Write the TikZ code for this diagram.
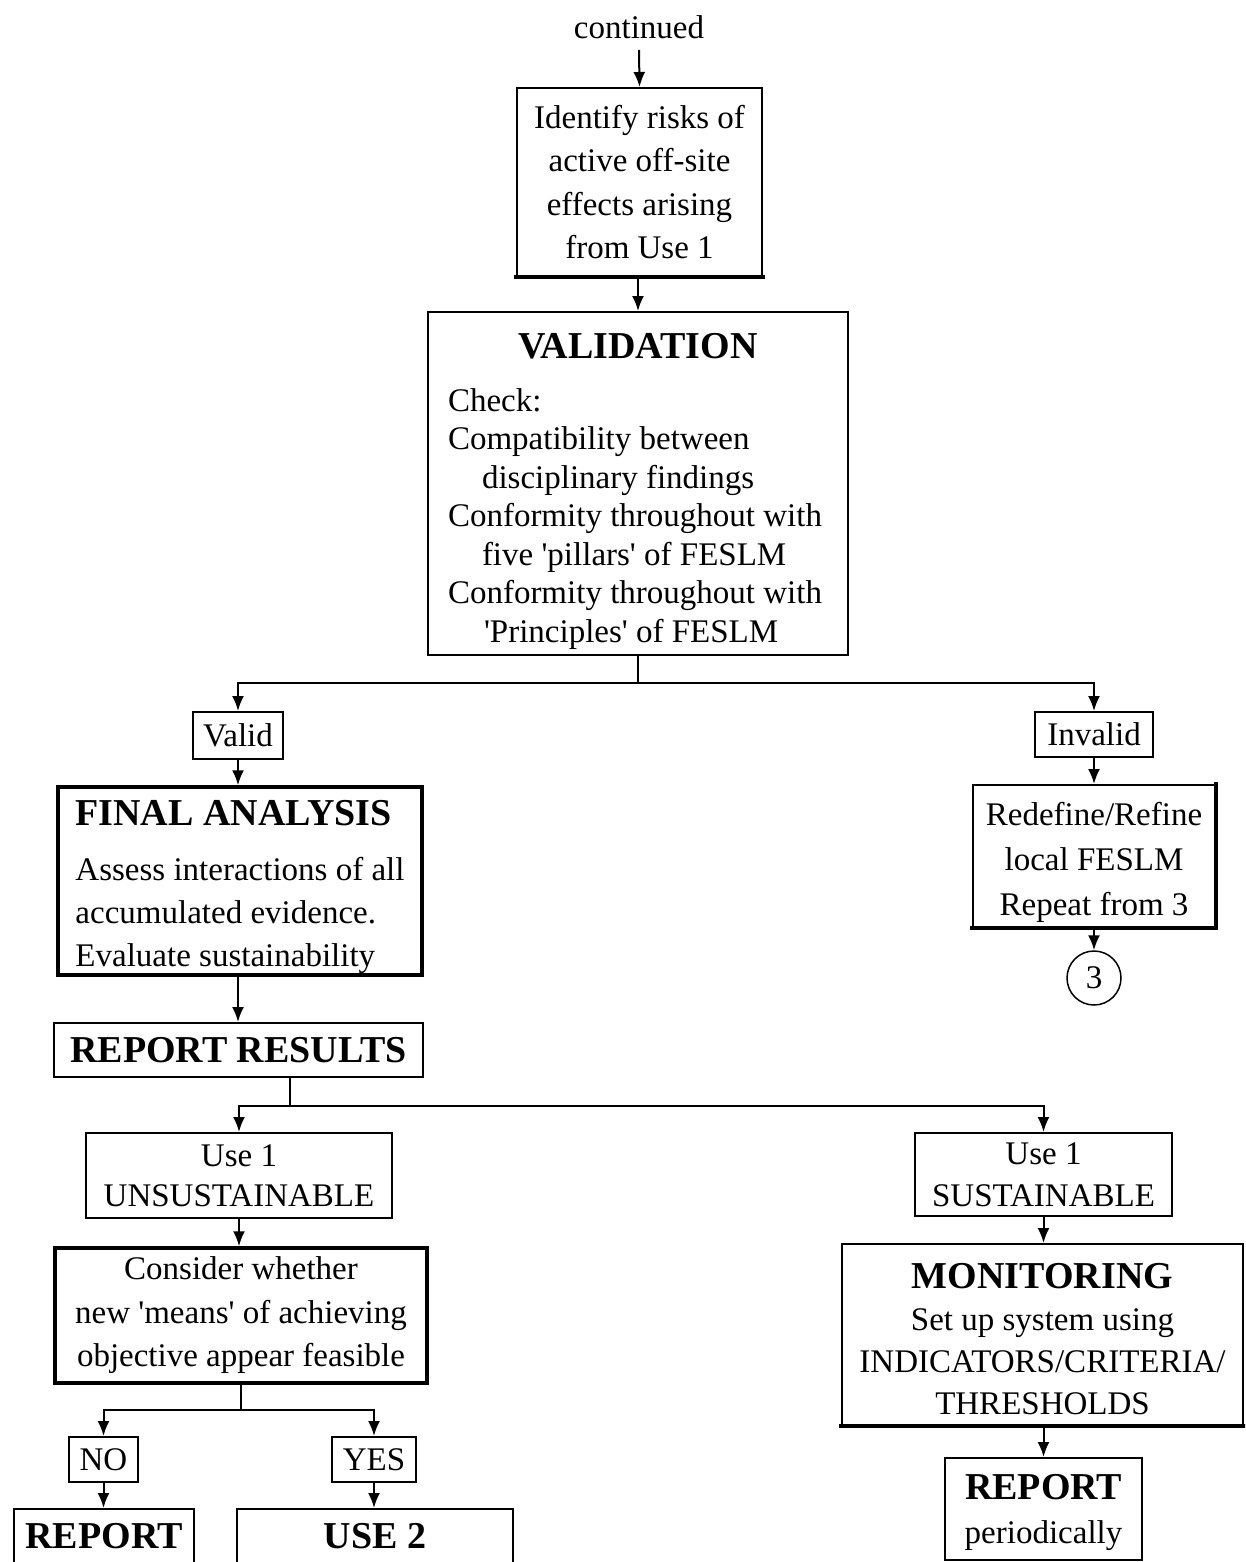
\documentclass[tikz,border=0pt]{standalone}
\usepackage{fontspec}
\setmainfont{Liberation Serif}
\usetikzlibrary{arrows.meta,calc}
\newcommand{\qq}{\textquotesingle}
\newcommand{\up}[1]{\rule{0pt}{#1}}
\begin{document}
\begin{tikzpicture}[x=1pt,y=-1pt,
  box/.style={draw, line width=2pt, inner sep=0pt, align=center, font=\fontsize{33}{43}\selectfont},
  thickbox/.style={box, line width=3.5pt},
  arr/.style={line width=2pt, -{Latex[length=15pt,width=12pt]}},
  ln/.style={line width=2pt},
  edge4/.style={line width=4pt, line cap=rect},
  ttl/.style={font=\fontsize{38}{43}\selectfont\bfseries}]
\useasboundingbox (0,0) rectangle (1245,1562);
\clip (0,0) rectangle (1245,1562);

% top
\node[inner sep=0pt, font=\fontsize{33}{40}\selectfont] (cont) at (639,27) {continued};
\node[box, minimum width=245pt, minimum height=188pt, font=\fontsize{33}{43.3}\selectfont] (id) at (639.5,182)
  {Identify risks of\\active off-site\\effects arising\\from Use 1};
\node[box, minimum width=420pt, minimum height=343pt, align=left, font=\fontsize{33}{38.5}\selectfont] (val) at (638,483.5)
  {\up{41pt}\makebox[380pt][c]{\fontsize{38}{38.5}\selectfont\bfseries VALIDATION}\\[14.5pt]
   Check:\\
   Compatibility between\\
   \hspace*{34pt}disciplinary findings\\
   Conformity throughout with\\
   \hspace*{34pt}five \qq pillars\qq{} of FESLM\\
   Conformity throughout with\\
   \hspace*{36pt}\qq Principles\qq{} of FESLM};

% valid / invalid
\node[box, minimum width=90pt, minimum height=47pt] (valid) at (238,735.5) {Valid};
\node[box, minimum width=118pt, minimum height=45pt] (invalid) at (1094,734.5) {Invalid};

\node[thickbox, minimum width=364pt, minimum height=188pt, align=left] (fa) at (240,881)
  {\up{37pt}{\fontsize{38}{43}\selectfont\bfseries FINAL ANALYSIS}\\[12pt]
   Assess interactions of all\\
   accumulated evidence.\\
   Evaluate sustainability};
\node[box, minimum width=369pt, minimum height=54pt, ttl] (rr) at (238.5,1050) {REPORT RESULTS};

\node[box, minimum width=242pt, minimum height=142pt, font=\fontsize{33}{45}\selectfont] (red) at (1094,856)
  {\up{37pt}Redefine/Refine\\local FESLM\\Repeat from 3};
\node[draw, circle, line width=1.5pt, minimum size=54pt, inner sep=0pt, font=\fontsize{33}{40}\selectfont] (c3) at (1094,978) {3};

% use 1 branches
\node[box, minimum width=306pt, minimum height=85pt, font=\fontsize{33}{40}\selectfont] (uns) at (239,1175.5)
  {Use 1\\UNSUSTAINABLE};
\node[box, minimum width=257pt, minimum height=83pt, font=\fontsize{33}{42}\selectfont] (sus) at (1043.5,1174.5)
  {Use 1\\SUSTAINABLE};

\node[thickbox, minimum width=372pt, minimum height=135pt, font=\fontsize{33}{43.5}\selectfont] (cons) at (241,1315.5)
  {Consider whether\\new \qq means\qq{} of achieving\\objective appear feasible};

\node[box, minimum width=69pt, minimum height=45pt] (no) at (103.5,1459.5) {NO};
\node[box, minimum width=84pt, minimum height=45pt] (yes) at (374,1459.5) {YES};

\node[box, ttl, anchor=north, minimum width=180pt, inner ysep=14pt, text depth=22pt] (rep) at (104,1508) {REPORT};
\node[box, ttl, anchor=north, minimum width=276pt, inner ysep=14pt, text depth=22pt] (use2) at (375,1508) {USE 2};

\node[box, minimum width=401pt, minimum height=181pt, font=\fontsize{33}{42}\selectfont] (mon) at (1042.5,1334.5)
  {\up{35pt}{\fontsize{38}{42}\selectfont\bfseries MONITORING}\\
   Set up system using\\
   INDICATORS/CRITERIA/\\
   THRESHOLDS};
\node[box, minimum width=197pt, minimum height=102pt, font=\fontsize{33}{44}\selectfont] (rp) at (1043.5,1509)
  {\up{33pt}{\fontsize{38}{44}\selectfont\bfseries REPORT}\\periodically};

% heavier edges seen in the reference
\draw[edge4] (id.south west) -- (id.south east);
\draw[edge4] (red.south west) -- (red.south east) -- (red.north east);
\draw[edge4] (mon.south west) -- (mon.south east);

% connectors
\draw[arr] ($(cont)+(0,23)$) -- (id.north);
\draw[arr] (id.south -| val) -- (val.north);
\draw[ln] (val.south) -- ++(0,27) coordinate (vb);
\draw[arr] (vb) -| (valid.north);
\draw[arr] (vb) -| (invalid.north);
\draw[arr] (valid.south) -- (valid.south |- fa.north);
\draw[arr] (fa.south -| valid) -- (rr.north -| valid);
\draw[arr] (invalid.south) -- (invalid.south |- red.north);
\draw[arr] (red.south -| c3) -- (c3.north);
\draw[ln] ([xshift=51.5pt]rr.south) -- ++(0,28) coordinate (rb);
\draw[arr] (rb) -| (uns.north);
\draw[arr] (rb) -| (sus.north);
\draw[arr] (uns.south) -- (uns.south |- cons.north);
\draw[ln] (cons.south) -- ++(0,25) coordinate (cb);
\draw[arr] (cb) -| (no.north);
\draw[arr] (cb) -| (yes.north);
\draw[arr] (no.south) -- (no.south |- rep.north);
\draw[arr] (yes.south) -- (yes.south |- use2.north);
\draw[arr] (sus.south) -- (sus.south |- mon.north);
\draw[arr] (mon.south -| rp) -- (rp.north);
\end{tikzpicture}
\end{document}
